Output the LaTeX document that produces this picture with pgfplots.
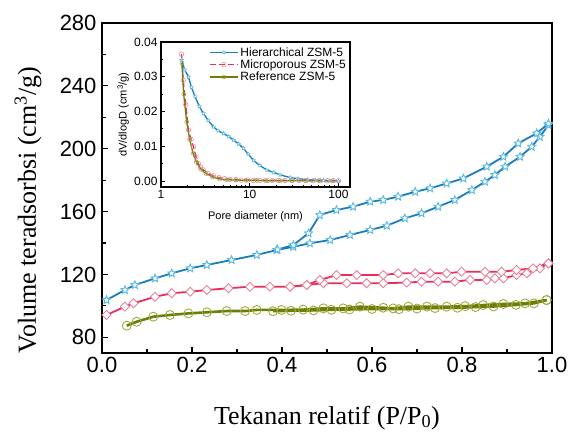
\documentclass[border=0pt]{standalone}
\usepackage{fontspec}
\setmainfont{Liberation Serif}
\setsansfont{Liberation Sans}
\usepackage{pgfplots}
\pgfplotsset{compat=1.18}
\definecolor{hblue}{RGB}{27,125,189}
\definecolor{hbluel}{RGB}{90,185,225}
\definecolor{mred}{RGB}{230,48,90}
\definecolor{mredl}{RGB}{232,130,155}
\definecolor{rolive}{RGB}{110,124,12}
\definecolor{rolivel}{RGB}{160,172,60}
\pgfdeclareplotmark{ostar}{%
  \pgfpathmoveto{\pgfpointpolar{90}{\pgfplotmarksize}}%
  \pgfpathlineto{\pgfpointpolar{126}{0.45\pgfplotmarksize}}%
  \pgfpathlineto{\pgfpointpolar{162}{\pgfplotmarksize}}%
  \pgfpathlineto{\pgfpointpolar{198}{0.45\pgfplotmarksize}}%
  \pgfpathlineto{\pgfpointpolar{234}{\pgfplotmarksize}}%
  \pgfpathlineto{\pgfpointpolar{270}{0.45\pgfplotmarksize}}%
  \pgfpathlineto{\pgfpointpolar{306}{\pgfplotmarksize}}%
  \pgfpathlineto{\pgfpointpolar{342}{0.45\pgfplotmarksize}}%
  \pgfpathlineto{\pgfpointpolar{18}{\pgfplotmarksize}}%
  \pgfpathlineto{\pgfpointpolar{54}{0.45\pgfplotmarksize}}%
  \pgfpathclose\pgfusepathqfillstroke}
\pgfdeclareplotmark{odiam}{%
  \pgfpathmoveto{\pgfqpoint{0pt}{\pgfplotmarksize}}%
  \pgfpathlineto{\pgfqpoint{\pgfplotmarksize}{0pt}}%
  \pgfpathlineto{\pgfqpoint{0pt}{-\pgfplotmarksize}}%
  \pgfpathlineto{\pgfqpoint{-\pgfplotmarksize}{0pt}}%
  \pgfpathclose\pgfusepathqfillstroke}
\begin{document}
\begin{tikzpicture}[x=1pt,y=1pt]
\path[use as bounding box] (-102,-79) rectangle (466,353);
\begin{axis}[at={(0,0)}, anchor=south west, scale only axis,
  width=450pt, height=330pt,
  xmin=0, xmax=1, ymin=70, ymax=280,
  xtick={0,0.2,0.4,0.6,0.8,1.0}, ytick={80,120,160,200,240,280},
  minor x tick num=1, minor y tick num=1,
  tick align=inside, tick pos=left,
  major tick length=6pt, minor tick length=4pt,
  axis line style={line width=1.4pt},
  every tick/.style={line width=1.2pt, black},
  /pgf/number format/assume math mode=true,
  ticklabel style={font=\sffamily\fontsize{22}{24}\selectfont},
  yticklabel style={xshift=-2pt},
  xticklabel style={yshift=-1pt},
  xticklabel={\pgfmathprintnumber[fixed,fixed zerofill,precision=1]{\tick}},
  xlabel={Tekanan relatif (P/P\textsubscript{0})},
  ylabel={Volume teradsorbsi (cm\textsuperscript{3}/g)},
  label style={font=\fontsize{26}{28}\selectfont},
  xlabel style={at={(axis description cs:0.5,0)}, anchor=base, yshift=-71pt},
  ylabel style={at={(axis description cs:-0.1644,0.433)}, anchor=center},
  clip=false]
% Hierarchical adsorption
\addplot[hblue, line width=1.8pt, mark=ostar, mark size=4.2pt, mark options={fill=white, draw=hbluel, line width=0.9pt}] coordinates {
(0.01,103.7)(0.051,110.1)(0.073,113.3)(0.118,117.5)(0.155,120.7)(0.196,123.9)(0.233,126.0)(0.288,129.2)(0.344,132.4)(0.388,135.5)(0.425,137.6)(0.462,139.8)(0.507,141.9)(0.551,145.1)(0.596,148.3)(0.633,151.0)(0.673,155.7)(0.710,158.9)(0.747,163.1)(0.784,167.4)(0.822,173.7)(0.851,179.0)(0.873,183.3)(0.896,188.6)(0.929,194.9)(0.955,201.3)(0.973,207.6)(0.992,215.1)};
% Hierarchical desorption
\addplot[hblue, line width=1.8pt, mark=ostar, mark size=4.2pt, mark options={fill=white, draw=hbluel, line width=0.9pt}] coordinates {
(0.992,216.0)(0.966,209.8)(0.925,203.4)(0.892,194.9)(0.855,188.6)(0.803,181.1)(0.766,177.9)(0.729,174.8)(0.696,172.6)(0.658,169.5)(0.625,167.4)(0.596,166.3)(0.558,163.1)(0.521,161.0)(0.484,157.8)(0.459,146.2)(0.425,138.7)(0.39,135.8)};
% Microporous adsorption
\addplot[mred, line width=1.8pt, mark=odiam, mark size=4.5pt, mark options={fill=white, draw=mredl, line width=0.9pt}] coordinates {
(0.01,94.2)(0.051,99.5)(0.07,101.6)(0.118,105.8)(0.155,108.0)(0.196,109.0)(0.233,110.1)(0.281,111.2)(0.329,112.2)(0.373,112.2)(0.418,112.2)(0.455,113.3)(0.492,114.4)(0.544,114.4)(0.588,114.4)(0.625,114.4)(0.677,114.8)(0.710,115.4)(0.747,115.4)(0.784,115.4)(0.818,116.5)(0.855,116.5)(0.873,117.5)(0.892,117.5)(0.921,119.6)(0.944,120.7)(0.973,123.9)(0.992,127.1)};
% Microporous desorption
\addplot[mred, line width=1.8pt, mark=odiam, mark size=4.5pt, mark options={fill=white, draw=mredl, line width=0.9pt}] coordinates {
(0.992,127.1)(0.958,123.9)(0.921,122.8)(0.888,121.7)(0.851,121.7)(0.799,121.7)(0.766,120.7)(0.729,120.7)(0.696,120.7)(0.658,120.7)(0.625,119.6)(0.566,119.6)(0.521,119.6)(0.484,116.5)(0.455,113.3)(0.418,112.2)};
% Reference adsorption
\addplot[rolive, line width=2.6pt, mark=o, mark size=4.5pt, mark options={fill=white, draw=rolivel, line width=0.9pt}] coordinates {
(0.055,87.4)(0.077,89.9)(0.114,93.1)(0.151,94.2)(0.192,95.2)(0.233,95.9)(0.277,96.7)(0.318,96.7)(0.344,97.4)(0.399,97.4)(0.447,97.6)(0.492,98.4)(0.536,98.4)(0.573,99.5)(0.625,98.8)(0.647,98.4)(0.681,99.5)(0.722,99.5)(0.766,99.5)(0.807,99.8)(0.847,100.5)(0.892,101.2)(0.940,101.6)(0.988,103.7)};
% Reference desorption
\addplot[rolive, line width=2.6pt, mark=o, mark size=4.5pt, mark options={fill=white, draw=rolivel, line width=0.9pt}] coordinates {
(0.988,103.7)(0.96,101.6)(0.92,100.6)(0.87,99.6)(0.83,99.2)(0.79,98.8)(0.74,98.6)(0.70,98.3)(0.66,97.9)(0.60,98.0)(0.55,97.7)(0.51,97.5)(0.47,97.1)(0.42,96.9)(0.38,96.6)};
\end{axis}
\begin{axis}[at={(59pt,166pt)}, anchor=south west, scale only axis,
  width=189pt, height=145pt,
  axis background/.style={fill=white},
  xmode=log, xmin=1, xmax=135, ymin=-0.0017, ymax=0.04,
  xtick={1,10,100}, xticklabels={1,10,100},
  ytick={0,0.01,0.02,0.03,0.04}, scaled y ticks=false,
  yticklabel={\pgfmathprintnumber[fixed,fixed zerofill,precision=2]{\tick}},
  minor y tick num=1,
  tick align=inside, tick pos=left,
  major tick length=4pt, minor tick length=2.5pt,
  axis line style={line width=1.2pt},
  every tick/.style={line width=0.9pt, black},
  /pgf/number format/assume math mode=true,
  ticklabel style={font=\sffamily\fontsize{12}{13}\selectfont},
  xlabel={Pore diameter (nm)},
  ylabel={dV/dlogD (cm\textsuperscript{3}/g)},
  label style={font=\sffamily\fontsize{11}{12}\selectfont},
  xlabel style={at={(axis description cs:0.5,0)}, anchor=center, yshift=-30pt},
  ylabel style={at={(axis description cs:-0.2,0.5)}, anchor=center},
  legend style={at={(rel axis cs:0.995,0.985)}, anchor=north east, draw=none, fill=none,
    font=\sffamily\fontsize{12}{13}\selectfont, row sep=-2pt, inner sep=1pt},
  legend cell align=left,
  legend image code/.code={\draw[mark repeat=2,mark phase=2,#1] plot coordinates {(0pt,0pt)(14pt,0pt)(28pt,0pt)};}]
\addplot[hblue, line width=1.3pt, mark=ostar, mark size=2pt, mark options={solid, fill=white, draw=hbluel, line width=0.5pt}] coordinates {
(1.71,0.0348)(1.85,0.032)(2.04,0.030)(2.2,0.027)(2.42,0.0243)(2.7,0.0215)(3.0,0.0195)(3.4,0.0175)(3.9,0.0156)(4.4,0.0145)(5.06,0.0137)(5.8,0.0128)(6.56,0.0118)(7.5,0.0107)(8.5,0.0094)(9.6,0.0078)(11,0.006)(13,0.0045)(15.6,0.0032)(18.6,0.0025)(22,0.0018)(28.7,0.001)(35,0.0007)(45,0.0004)(55,0.0003)(68,0.0002)(80,0.0001)(100,0.0)};
\addlegendentry{Hierarchical ZSM-5}
\addplot[mred, line width=1.3pt, dash pattern=on 6pt off 3pt, mark=o, mark size=2.3pt, mark options={solid, fill=white, draw=mredl, line width=0.5pt}] coordinates {
(1.7,0.0365)(1.78,0.029)(1.9,0.022)(2.04,0.0147)(2.18,0.012)(2.32,0.0099)(2.48,0.007)(2.64,0.005)(2.8,0.004)(3.0,0.0032)(3.4,0.0022)(3.9,0.0015)(4.5,0.001)(5.2,0.0007)(6,0.0005)(7,0.0004)(8,0.0003)(9.5,0.0003)(11,0.0002)(13,0.0002)(15,0.0002)(18,0.0002)(21,0.0002)(25,0.0002)(30,0.0002)(36,0.0002)(43,0.0001)(52,0.0001)(62,0.0001)(75,0.0001)(88,0.0001)(100,0.0001)};
\addlegendentry{Microporous ZSM-5}
\addplot[rolive, line width=1.3pt, mark=o, mark size=2pt, mark options={solid, fill=white, draw=rolivel, line width=0.5pt}] coordinates {
(1.72,0.034)(1.8,0.025)(1.95,0.017)(2.1,0.012)(2.3,0.008)(2.5,0.0055)(2.8,0.0035)(3.2,0.0022)(3.8,0.0012)(4.6,0.0006)(5.5,0.0004)(7,0.0003)(9,0.0002)(12,0.0002)(16,0.0001)(22,0.0001)(30,0.0001)(42,0.0001)(60,0.0001)(85,0.0001)};
\addlegendentry{Reference ZSM-5}
\end{axis}
\end{tikzpicture}
\end{document}
